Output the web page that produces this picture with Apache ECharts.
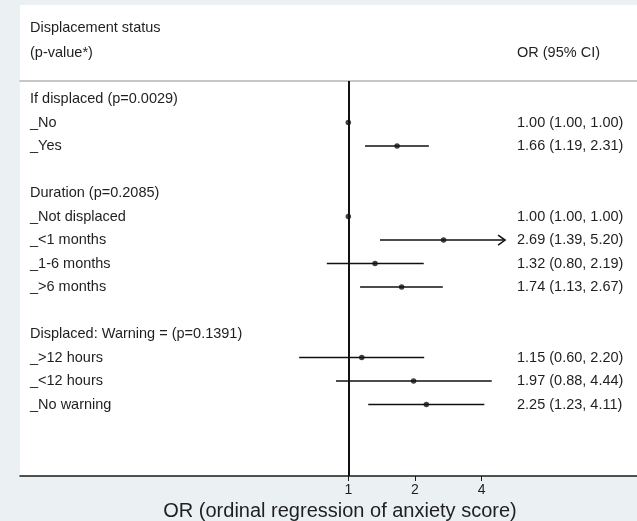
<!DOCTYPE html>
<html><head><meta charset="utf-8">
<script src="https://cdn.jsdelivr.net/npm/echarts@6/dist/echarts.min.js"></script>
<style>html,body{margin:0;padding:0;background:#ebf1f2}#c{width:637px;height:521px}</style>
</head><body><div id="c"></div>
<script>
// ---- data ----
const rowLabels = [
  'If displaced (p=0.0029)', '_No', '_Yes', '',
  'Duration (p=0.2085)', '_Not displaced', '_<1 months', '_1-6 months', '_>6 months', '',
  'Displaced: Warning = (p=0.1391)', '_>12 hours', '_<12 hours', '_No warning'
];
const estimates = [null, 1.00, 1.66, null, null, 1.00, 2.69, 1.32, 1.74, null, null, 1.15, 1.97, 2.25];
const lowerCI   = [null, 1.00, 1.19, null, null, 1.00, 1.39, 0.80, 1.13, null, null, 0.60, 0.88, 1.23];
const upperCI   = [null, 1.00, 2.31, null, null, 1.00, 5.20, 2.19, 2.67, null, null, 2.20, 4.44, 4.11];
const xTickValues = [1, 2, 4];
const headerLeft = ['Displacement status', '(p-value*)'];
const headerRight = 'OR (95% CI)';
const xTitle = 'OR (ordinal regression of anxiety score)';
const ciClipMax = 5.1;

// ---- build ----
const rowIdx = rowLabels.map((_, i) => i);
const pointData = [], ciData = [];
rowIdx.forEach(i => {
  if (estimates[i] != null) {
    pointData.push([estimates[i], i]);
    ciData.push([lowerCI[i], upperCI[i], i]);
  }
});
const orText = rowIdx.map(i => estimates[i] == null ? '' :
  estimates[i].toFixed(2) + ' (' + lowerCI[i].toFixed(2) + ', ' + upperCI[i].toFixed(2) + ')');

const FONT = '"Liberation Sans", Arial, sans-serif';
const TXT = '#1f1f1f';
const xMin = Math.pow(2, -4.922), xMax = Math.pow(2, 4.328);

const chart = echarts.init(document.getElementById('c'), null, {renderer: 'canvas'});
chart.setOption({
  backgroundColor: '#ebf1f2',
  animation: false,
  graphic: [
    {type: 'rect', shape: {x: 20, y: 5, width: 617, height: 76}, style: {fill: '#ffffff'}, z: -1},
    {type: 'text', x: 30, y: 28, style: {text: headerLeft[0], font: '14.5px ' + FONT, fill: TXT, verticalAlign: 'middle'}},
    {type: 'text', x: 30, y: 53, style: {text: headerLeft[1], font: '14.5px ' + FONT, fill: TXT, verticalAlign: 'middle'}},
    {type: 'text', x: 517, y: 53, style: {text: headerRight, font: '14.5px ' + FONT, fill: TXT, verticalAlign: 'middle'}}
  ],
  grid: {left: 20, right: 0, top: 81, bottom: 45, show: true, backgroundColor: '#ffffff', borderWidth: 0,
    outerBoundsMode: 'none', containLabel: false},
  xAxis: [{
    type: 'log', logBase: 2, min: xMin, max: xMax, position: 'bottom',
    axisLine: {show: true, onZero: false, lineStyle: {color: '#1a1a1a', width: 1.5}},
    axisTick: {show: true, customValues: xTickValues, length: 5, lineStyle: {color: '#1a1a1a', width: 1}},
    axisLabel: {show: true, customValues: xTickValues, formatter: v => String(Math.round(v)), margin: 7,
      fontSize: 14, fontFamily: FONT, color: TXT},
    splitLine: {show: false}, minorTick: {show: false},
    name: xTitle, nameLocation: 'middle', nameGap: 20,
    nameTextStyle: {fontSize: 20, fontFamily: FONT, color: TXT, padding: [0, 0, 0, 23]}
  }, {
    type: 'log', logBase: 2, min: xMin, max: xMax, position: 'top',
    axisLine: {show: true, onZero: false, lineStyle: {color: '#b5b5b5', width: 1.5}},
    axisTick: {show: false}, axisLabel: {show: false}, splitLine: {show: false}
  }],
  yAxis: [{
    type: 'value', inverse: true, min: -0.766, max: 16.04, position: 'left',
    axisLine: {show: false, onZero: false}, axisTick: {show: false}, splitLine: {show: false},
    axisLabel: {show: true, inside: true, margin: 10, customValues: rowIdx,
      formatter: v => rowLabels[Math.round(v)] || '', fontSize: 14.5, fontFamily: FONT, color: TXT}
  }, {
    type: 'value', inverse: true, min: -0.766, max: 16.04, position: 'right', offset: -120,
    axisLine: {show: false, onZero: false}, axisTick: {show: false}, splitLine: {show: false},
    axisLabel: {show: true, margin: 0, customValues: rowIdx,
      formatter: v => orText[Math.round(v)] || '', fontSize: 14.5, fontFamily: FONT, color: TXT}
  }],
  series: [{
    type: 'custom', xAxisIndex: 0, yAxisIndex: 0, data: ciData,
    renderItem: function (params, api) {
      const lo = api.value(0), hi = api.value(1), row = api.value(2);
      const hiC = Math.min(hi, ciClipMax);
      const p1 = api.coord([lo, row]), p2 = api.coord([hiC, row]);
      const children = [{type: 'line', shape: {x1: p1[0], y1: p1[1], x2: p2[0], y2: p2[1]},
        style: {stroke: '#111', lineWidth: 1.5}}];
      if (hi > ciClipMax) {
        children.push({type: 'polyline', shape: {points: [[p2[0] - 7, p2[1] - 5], [p2[0], p2[1]], [p2[0] - 7, p2[1] + 5]]},
          style: {stroke: '#111', fill: null, lineWidth: 1.5}});
      }
      return {type: 'group', children: children};
    },
    markLine: {
      silent: true, symbol: 'none', label: {show: false},
      lineStyle: {color: '#111', width: 2, type: 'solid'},
      data: [{xAxis: 1}]
    }
  }, {
    type: 'scatter', xAxisIndex: 0, yAxisIndex: 0, data: pointData,
    symbol: 'circle', symbolSize: 5.5, itemStyle: {color: '#111'}, z: 5
  }]
});
</script></body></html>
